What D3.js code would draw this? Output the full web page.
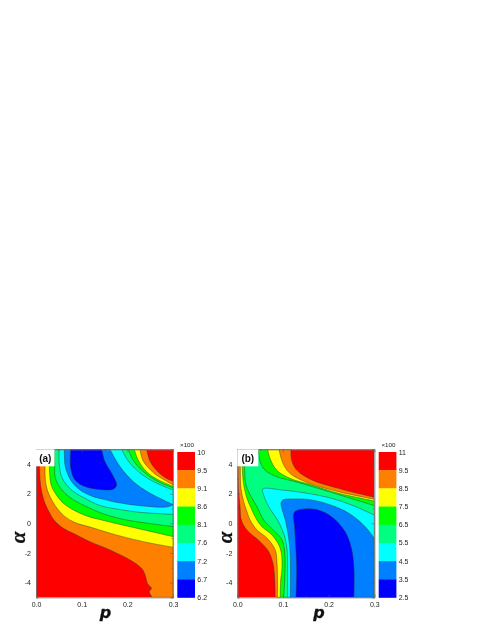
<!DOCTYPE html>
<html>
<head>
<meta charset="utf-8">
<script src="https://cdn.jsdelivr.net/npm/d3@7"></script>
<style>
  html, body { margin: 0; padding: 0; background: #fff; }
  svg { display: block; font-family: "Liberation Sans", Arial, sans-serif; filter: blur(0.4px); }
</style>
</head>
<body>
<div id="chart"></div>
<script>
// Contour lines, as [p, alpha]
const a95Low = [[.0066,5],[.0075,3.9],[.0088,2.95],[.0124,2.14],[.0197,1.35],[.029,.75],[.04,.2],[.06,-.34],[.089,-.79],[.118,-1.24],[.162,-1.8],[.206,-2.48],[.231,-3.04],[.239,-3.49],[.244,-4.06],[.253,-4.4],[.248,-4.62],[.255,-5]];
const a95Up = [[.2423,5],[.25,4.17],[.268,3.45],[.285,3.05],[.3,2.85]];
const a91Low = [[.0197,5],[.0197,3.83],[.0204,2.93],[.0248,2.25],[.0343,1.58],[.049,.9],[.0635,.45],[.085,.05],[.118,-.25],[.177,-.8],[.235,-1.24],[.3,-1.62]];
const a91Up = [[.2277,5],[.235,4.2],[.258,3.4],[.28,2.95],[.3,2.6]];
const a86Low = [[.0292,5],[.0292,3.9],[.0307,3.04],[.0343,2.48],[.045,1.9],[.06,1.35],[.082,.9],[.111,.5],[.144,.22],[.206,-.23],[.3,-.9]];
const a86Up = [[.215,5],[.225,4.2],[.245,3.4],[.27,2.9],[.3,2.5]];
const a81Low = [[.0394,5],[.041,3.94],[.0416,3.15],[.049,2.59],[.0635,2.03],[.082,1.58],[.118,1.02],[.151,.6],[.199,.22],[.3,-.22]];
const a81Up = [[.202,5],[.213,4.25],[.235,3.5],[.265,2.85],[.3,2.4]];
const a76Low = [[.0504,5],[.051,3.94],[.056,3.15],[.067,2.59],[.082,2.14],[.107,1.69],[.14,1.2],[.18,.95],[.228,.74],[.3,.6]];
const a76Up = [[.1876,5],[.2,4.3],[.222,3.55],[.255,2.85],[.3,2.25]];
const a72Low = [[.062,5],[.0635,3.94],[.0686,3.38],[.078,2.82],[.0964,2.25],[.1255,1.8],[.151,1.6],[.169,1.46],[.228,1.19],[.286,1.1],[.3,1.23]];
const a72Up = [[.162,5],[.184,3.83],[.213,2.82],[.25,2.03],[.3,1.27]];
const a67 = [[.076,5],[.076,3.72],[.0854,2.93],[.107,2.48],[.133,2.3],[.169,2.3],[.1766,2.59],[.1657,3.38],[.151,4.17],[.1438,5]];

const b95Low = [[.0015,5],[.0015,3.7],[.003,2.14],[.006,1.13],[.0088,.22],[.021,-.45],[.05,-1.24],[.0686,-1.9],[.078,-2.7],[.082,-3.83],[.083,-5]];
const b95Up = [[.1175,5],[.119,4.28],[.13,3.6],[.163,2.93],[.221,2.36],[.272,1.96],[.3,1.76]];
const b85Low = [[.0066,5],[.0066,3.7],[.008,2.37],[.014,1.46],[.021,.8],[.028,.22],[.043,-.45],[.065,-1],[.083,-1.8],[.087,-2.7],[.088,-5]];
const b85Up = [[.0912,5],[.1,4.05],[.115,3.38],[.148,2.82],[.221,2.14],[.272,1.8],[.3,1.62]];
const b75Low = [[.011,5],[.011,3.7],[.014,2.6],[.021,1.7],[.032,.9],[.043,.22],[.054,-.23],[.076,-.79],[.094,-1.69],[.098,-2.93],[.095,-3.83],[.094,-5]];
const b75Up = [[.0664,5],[.0715,4.39],[.086,3.6],[.115,3.04],[.163,2.59],[.221,2.03],[.272,1.69],[.3,1.5]];
const b65Low = [[.016,5],[.016,3.7],[.019,2.6],[.0285,1.9],[.043,1.13],[.0577,.22],[.083,-.57],[.098,-1.13],[.104,-2.03],[.104,-3.6],[.1015,-5]];
const b65Up = [[.046,5],[.05,4.17],[.0606,3.6],[.086,3.15],[.126,2.82],[.177,2.36],[.236,1.8],[.3,1.2]];
const b55 = [[.11,-5],[.11,-3.6],[.109,-1.8],[.1015,-.68],[.088,.22],[.0686,1.13],[.0577,1.91],[.0555,2.32],[.098,2.25],[.1526,2.03],[.2066,1.69],[.25,1.24],[.3,.56]];
const b45 = [[.116,-5],[.116,-2.25],[.112,-.9],[.105,.22],[.0985,.9],[.0956,1.35],[.1,1.58],[.126,1.64],[.163,1.58],[.214,1.13],[.25,.56],[.28,-.23],[.3,-1.01]];
const b35 = [[.1285,-5],[.13,-3.04],[.127,-1.13],[.125,-.1],[.1226,.56],[.1277,.83],[.148,.97],[.177,.9],[.2066,.45],[.236,-.56],[.25,-1.69],[.2555,-3.04],[.2555,-5]];

const bandColors = ["#ff0000", "#ff8000", "#ffff00", "#00ff00", "#00ff80", "#00ffff", "#0080ff", "#0000ff"];
const barLabelsA = ["10", "9.5", "9.1", "8.6", "8.1", "7.6", "7.2", "6.7", "6.2"];
const barLabelsB = ["11", "9.5", "8.5", "7.5", "6.5", "5.5", "4.5", "3.5", "2.5"];
const pTicks = [0, 0.1, 0.2, 0.3];
const pMinor = [0.05, 0.15, 0.25];
const alphaTicks = [-4, -2, 0, 2, 4];
const alphaMinor = [-5, -3, -1, 1, 3, 5];

const width = 485;
const height = 627;
const top_ = 449.3;
const bottom = 597.3;

const svg = d3.select("#chart").append("svg")
    .attr("width", width)
    .attr("height", height);

const rev = c => c.slice().reverse();

// A filled region is a list of pieces: smooth curves, or a single corner point
const regionsA = [
    [a95Low, [[.3, -5]], rev(a95Up)],
    [a91Low, rev(a91Up)],
    [a86Low, rev(a86Up)],
    [a81Low, rev(a81Up)],
    [a76Low, rev(a76Up)],
    [a72Low, rev(a72Up)],
    [a67]
];
const regionsB = [
    [b95Low, [[.3, -5]], rev(b95Up)],
    [b85Low, [[.3, -5]], rev(b85Up)],
    [b75Low, [[.3, -5]], rev(b75Up)],
    [b65Low, [[.3, -5]], rev(b65Up)],
    [b55, [[.3, -5]]],
    [b45, [[.3, -5]]],
    [b35]
];

function drawPanel(id, left, right, regions, tag, boxW, barX, barLabels, pX, alphaX) {
    const g = svg.append("g");

    const xScale = d3.scaleLinear().domain([0, 0.3]).range([left, right]);
    const yScale = d3.scaleLinear().domain([-5, 5]).range([bottom, top_]);

    const line = d3.line()
        .x(d => xScale(d[0]))
        .y(d => yScale(d[1]))
        .curve(d3.curveCatmullRom.alpha(0.5));

    function regionPath(pieces) {
        let d = "";
        pieces.forEach(function(piece) {
            if (piece.length === 1) {
                d += `L${xScale(piece[0][0])},${yScale(piece[0][1])}`;
            } else {
                let part = line(piece);
                d += d === "" ? part : "L" + part.slice(1);
            }
        });
        return d + "Z";
    }

    g.append("clipPath").attr("id", `clip-${id}`)
        .append("rect")
        .attr("x", left).attr("y", top_)
        .attr("width", right - left).attr("height", bottom - top_);

    const plot = g.append("g").attr("clip-path", `url(#clip-${id})`);

    plot.append("rect")
        .attr("x", left).attr("y", top_)
        .attr("width", right - left).attr("height", bottom - top_)
        .attr("fill", bandColors[0]);

    plot.selectAll("path")
        .data(regions)
        .enter()
        .append("path")
            .attr("d", regionPath)
            .attr("fill", (d, i) => bandColors[i + 1])
            .attr("stroke", "#333")
            .attr("stroke-width", 0.45);

    // Axes, ticks point inwards on all four sides
    function addAxis(axis, transform, ticks, size, labels) {
        const a = g.append("g")
            .attr("transform", transform)
            .call(axis.tickValues(ticks).tickSize(size).tickPadding(5));
        a.selectAll("path").attr("stroke", "#777").attr("stroke-width", 0.6);
        a.selectAll("line").attr("stroke", "#555").attr("stroke-width", 0.5);
        a.selectAll("text").attr("font-size", 7).attr("font-family", null).attr("fill", "#222");
        if (!labels) a.selectAll("text").remove();
    }

    const bottomT = `translate(0,${bottom})`;
    const topT = `translate(0,${top_})`;
    const leftT = `translate(${left},0)`;
    const rightT = `translate(${right},0)`;

    addAxis(d3.axisBottom(xScale).tickFormat(d3.format(".1f")), bottomT, pTicks, -3, true);
    addAxis(d3.axisBottom(xScale), bottomT, pMinor, -1.5, false);
    addAxis(d3.axisTop(xScale), topT, pTicks, -3, false);
    addAxis(d3.axisTop(xScale), topT, pMinor, -1.5, false);
    addAxis(d3.axisLeft(yScale).tickFormat(d => String(d)), leftT, alphaTicks, -3, true);
    addAxis(d3.axisLeft(yScale), leftT, alphaMinor, -1.5, false);
    addAxis(d3.axisRight(yScale), rightT, alphaTicks, -3, false);
    addAxis(d3.axisRight(yScale), rightT, alphaMinor, -1.5, false);

    // Panel tag
    g.append("rect")
        .attr("x", left).attr("y", top_)
        .attr("width", boxW).attr("height", 17)
        .attr("fill", "#fff");
    g.append("text")
        .attr("x", left + boxW / 2).attr("y", 462)
        .attr("text-anchor", "middle")
        .attr("font-size", 10).attr("font-weight", "bold")
        .attr("fill", "#111")
        .text(tag);

    // Axis titles
    g.append("text")
        .attr("x", pX).attr("y", 617.6)
        .attr("text-anchor", "middle")
        .attr("font-size", 16).attr("font-weight", "bold").attr("font-style", "italic")
        .attr("font-family", "'DejaVu Sans', sans-serif")
        .attr("fill", "#111").attr("stroke", "#111").attr("stroke-width", 0.3)
        .text("p");
    g.append("text")
        .attr("transform", `translate(${alphaX},537.5) rotate(-90)`)
        .attr("text-anchor", "middle")
        .attr("font-size", 21).attr("font-weight", "bold").attr("font-style", "italic")
        .attr("font-family", "'Liberation Serif', serif")
        .attr("fill", "#111").attr("stroke", "#111").attr("stroke-width", 0.3)
        .text("α");

    // Colour bar
    const barY = d3.scaleBand()
        .domain(bandColors)
        .range([452, 597.5]);

    g.selectAll(".bar")
        .data(bandColors)
        .enter()
        .append("rect")
            .attr("class", "bar")
            .attr("x", barX)
            .attr("y", d => barY(d))
            .attr("width", 17.7)
            .attr("height", barY.bandwidth() + 0.3)
            .attr("fill", d => d);

    const labelY = d3.scalePoint()
        .domain(barLabels)
        .range([452, 597.5]);

    g.selectAll(".bar-label")
        .data(barLabels)
        .enter()
        .append("text")
            .attr("class", "bar-label")
            .attr("x", barX + 20)
            .attr("y", d => labelY(d) + 2.5)
            .attr("font-size", 7)
            .attr("fill", "#222")
            .text(d => d);

    g.append("text")
        .attr("x", barX + 9.7).attr("y", 447)
        .attr("text-anchor", "middle")
        .attr("font-size", 6.2)
        .attr("fill", "#222")
        .text("×100");
}

drawPanel("a", 36, 173, regionsA, "(a)", 18.5, 177.3, barLabelsA, 105.5, 25);
drawPanel("b", 237.3, 374.3, regionsB, "(b)", 21, 378.7, barLabelsB, 319, 232);
</script>
</body>
</html>
